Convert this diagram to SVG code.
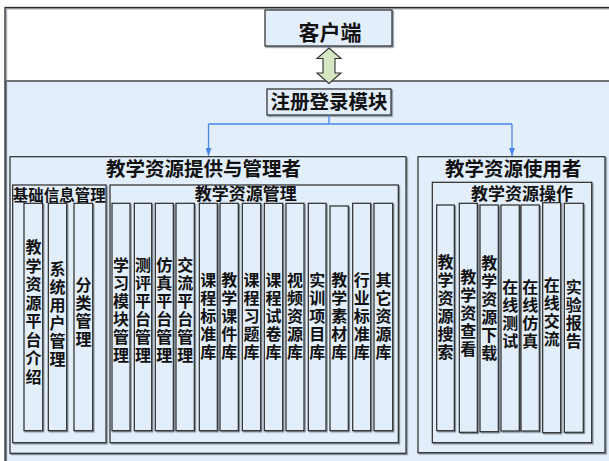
<svg xmlns="http://www.w3.org/2000/svg" width="609" height="461" viewBox="0 0 609 461">
<defs>
<filter id="sh" x="-5%" y="-5%" width="115%" height="115%">
<feDropShadow dx="1.2" dy="1.2" stdDeviation="0" flood-color="#7d8790"/>
</filter>
<marker id="ah" viewBox="0 0 8 6" refX="8" refY="3" markerWidth="8" markerHeight="6" markerUnits="userSpaceOnUse" orient="auto">
<path d="M0,0 L8,3 L0,6 z" fill="#4a86e8"/>
</marker>
</defs>
<style>
.box{fill:#e2eefa;stroke:#2a2a2a;stroke-width:1.2;filter:url(#sh)}
.col{fill:#e2eefa;stroke:#2a2a2a;stroke-width:1.2;filter:url(#sh)}
text{font-family:"Noto Sans CJK SC","Noto Sans CJK TC",sans-serif;font-weight:bold;fill:#111}
.t1{font-size:21px;text-anchor:middle}
.t2{font-size:19.5px;text-anchor:middle}
.t3{font-size:17px;text-anchor:middle}
.t4{font-size:15.5px;text-anchor:middle}
.vt{font-size:16px;writing-mode:vertical-rl;text-orientation:upright;letter-spacing:2px;text-anchor:start}
.conn{fill:none;stroke:#4a86e8;stroke-width:1.3}
</style>
<rect x="0" y="0" width="609" height="461" fill="#ffffff"/>
<rect x="6" y="81" width="610" height="390" fill="#e2eefa" stroke="#2a2a2a" stroke-width="1.3"/>
<rect x="5" y="7.5" width="610" height="470" fill="none" stroke="#2a2a2a" stroke-width="1.3" filter="url(#sh)"/>

<g id="client">
<rect class="box" x="265" y="10" width="127" height="36"/>
<text class="t1" x="330" y="40">客户端</text>
</g>

<g id="bi-arrow">
<path d="M329,48 L341,58.5 L335,58.5 L335,73 L341,73 L329,83.5 L317,73 L323,73 L323,58.5 L317,58.5 Z" fill="#d5e7c3" stroke="#333" stroke-width="1.1"/>
</g>

<g id="login">
<rect class="box" x="267" y="89" width="124" height="26"/>
<text class="t2" x="329" y="108.5">注册登录模块</text>
</g>

<g id="connectors">
<path class="conn" d="M329,115 V124 M208.5,124 H512"/>
<path class="conn" d="M208.5,124 V156" marker-end="url(#ah)"/>
<path class="conn" d="M512,124 V156" marker-end="url(#ah)"/>
</g>

<g id="provider">
<rect class="box" x="10" y="156.7" width="396" height="296.6"/>
<text class="t2" x="203.5" y="176">教学资源提供与管理者</text>
</g>

<g id="basic">
<rect class="box" x="12.7" y="185" width="93.3" height="257.7"/>
<text class="t4" x="59.3" y="200.5">基础信息管理</text>
</g>

<g id="manage">
<rect class="box" x="110" y="185" width="288.3" height="257.7"/>
<text class="t3" x="245.8" y="200">教学资源管理</text>
</g>

<g id="user">
<rect class="box" x="418" y="156.7" width="187" height="296"/>
<text class="t2" x="513.3" y="175.5">教学资源使用者</text>
</g>

<g id="ops">
<rect class="box" x="432.3" y="182.3" width="159.4" height="260.4"/>
<text class="t3" x="522" y="200">教学资源操作</text>
</g>

<g id="b1"><rect class="col" x="24" y="203.3" width="18.7" height="227.4"/>
<text class="vt" x="33.4" y="239" style="letter-spacing:2.5px">教学资源平台介绍</text></g>
<g id="b2"><rect class="col" x="48.3" y="203.3" width="18.4" height="227.4"/>
<text class="vt" x="57.5" y="261">系统用户管理</text></g>
<g id="b3"><rect class="col" x="74" y="203.3" width="18.7" height="227.4"/>
<text class="vt" x="83.4" y="277">分类管理</text></g>

<g id="m1"><rect class="col" x="112" y="203.3" width="18" height="227.4"/>
<text class="vt" x="121" y="257">学习模块管理</text></g>
<g id="m2"><rect class="col" x="134.3" y="203.3" width="17.4" height="227.4"/>
<text class="vt" x="143" y="257">测评平台管理</text></g>
<g id="m3"><rect class="col" x="155.3" y="203.3" width="18" height="227.4"/>
<text class="vt" x="164.3" y="257">仿真平台管理</text></g>
<g id="m4"><rect class="col" x="176" y="203.3" width="18.3" height="227.4"/>
<text class="vt" x="185.2" y="257">交流平台管理</text></g>
<g id="m5"><rect class="col" x="199.3" y="203.3" width="18" height="227.4"/>
<text class="vt" x="208.3" y="272">课程标准库</text></g>
<g id="m6"><rect class="col" x="220" y="203.3" width="18.3" height="227.4"/>
<text class="vt" x="229.2" y="272">教学课件库</text></g>
<g id="m7"><rect class="col" x="242.3" y="203.3" width="18.4" height="227.4"/>
<text class="vt" x="251.5" y="272">课程习题库</text></g>
<g id="m8"><rect class="col" x="264.3" y="203.3" width="18.4" height="227.4"/>
<text class="vt" x="273.5" y="272">课程试卷库</text></g>
<g id="m9"><rect class="col" x="286" y="203.3" width="18" height="227.4"/>
<text class="vt" x="295" y="272">视频资源库</text></g>
<g id="m10"><rect class="col" x="308.3" y="203.3" width="17.7" height="227.4"/>
<text class="vt" x="317.2" y="272">实训项目库</text></g>
<g id="m11"><rect class="col" x="330" y="206" width="18.3" height="224.7"/>
<text class="vt" x="339.2" y="272">教学素材库</text></g>
<g id="m12"><rect class="col" x="352.7" y="203.3" width="18" height="227.4"/>
<text class="vt" x="361.7" y="272">行业标准库</text></g>
<g id="m13"><rect class="col" x="374" y="203.3" width="18.7" height="227.4"/>
<text class="vt" x="383.4" y="272">其它资源库</text></g>

<g id="u1"><rect class="col" x="436.7" y="205" width="17.6" height="225.7"/>
<text class="vt" x="445.5" y="254">教学资源搜索</text></g>
<g id="u2"><rect class="col" x="459.3" y="203.3" width="18" height="229"/>
<text class="vt" x="468.3" y="269">教学资查看</text></g>
<g id="u3"><rect class="col" x="480" y="205" width="18.3" height="226.7"/>
<text class="vt" x="489.2" y="255">教学资源下载</text></g>
<g id="u4"><rect class="col" x="501" y="205" width="18.3" height="226"/>
<text class="vt" x="510.2" y="279">在线测试</text></g>
<g id="u5"><rect class="col" x="521" y="205" width="18.3" height="226"/>
<text class="vt" x="530.2" y="279">在线仿真</text></g>
<g id="u6"><rect class="col" x="542.7" y="202.7" width="18" height="230"/>
<text class="vt" x="551.7" y="277">在线交流</text></g>
<g id="u7"><rect class="col" x="564.3" y="203.3" width="19" height="229"/>
<text class="vt" x="573.8" y="279">实验报告</text></g>
</svg>
